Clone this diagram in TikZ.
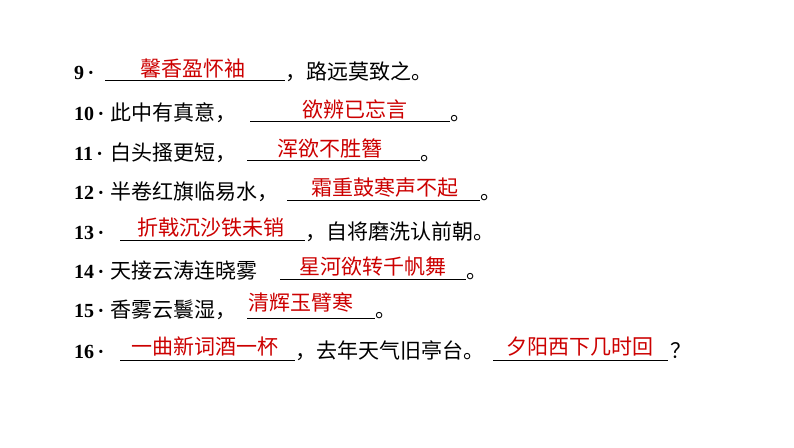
\documentclass[tikz,border=0pt]{standalone}
\usepackage{fontspec}
\setmainfont{Liberation Serif}
\newfontfamily\cjk{Noto Sans CJK SC}
\begin{document}
\begin{tikzpicture}[x=1pt,y=-1pt,
  txt/.style={anchor=base west,inner sep=0pt,font=\fontsize{21}{21}\selectfont\cjk},
  num/.style={anchor=base west,inner sep=0pt,font=\fontsize{20}{20}\selectfont\bfseries},
  ans/.style={anchor=base,inner sep=0pt,text=red!80!black,font=\fontsize{21}{21}\selectfont\cjk},
  blank/.style={line width=0.8pt}]
\useasboundingbox[fill=white] (0,0) rectangle (794,447);
% 9
\node[num] (n9) at (74,79) {9\,·};
\draw[blank] (105,80) coordinate (a9) -- (285,80) coordinate (b9);
\node[ans] (r9) at (193,76) {馨香盈怀袖};
\node[txt] (t9) at (285,79) {，路远莫致之。};
% 10
\node[num] (n10) at (74,120) {10\,·};
\node[txt] (t10) at (110,120) {此中有真意，};
\draw[blank] (250,121) coordinate (a10) -- (450,121) coordinate (b10);
\node[ans] (r10) at (355,117) {欲辨已忘言};
\node[txt] (u10) at (450,120) {。};
% 11
\node[num] (n11) at (74,160) {11\,·};
\node[txt] (t11) at (110,160) {白头搔更短，};
\draw[blank] (247,160) coordinate (a11) -- (420,160) coordinate (b11);
\node[ans] (r11) at (330,156) {浑欲不胜簪};
\node[txt] (u11) at (420,160) {。};
% 12
\node[num] (n12) at (74,199) {12\,·};
\node[txt] (t12) at (110,199) {半卷红旗临易水，};
\draw[blank] (287,200) coordinate (a12) -- (480,200) coordinate (b12);
\node[ans] (r12) at (385,195) {霜重鼓寒声不起};
\node[txt] (u12) at (480,199) {。};
% 13
\node[num] (n13) at (74,239) {13\,·};
\draw[blank] (120,240) coordinate (a13) -- (305,240) coordinate (b13);
\node[ans] (r13) at (211,235) {折戟沉沙铁未销};
\node[txt] (t13) at (305,239) {，自将磨洗认前朝。};
% 14
\node[num] (n14) at (74,278) {14\,·};
\node[txt] (t14) at (110,278) {天接云涛连晓雾};
\draw[blank] (280,279) coordinate (a14) -- (466,279) coordinate (b14);
\node[ans] (r14) at (373,274) {星河欲转千帆舞};
\node[txt] (u14) at (466,278) {。};
% 15
\node[num] (n15) at (74,317) {15\,·};
\node[txt] (t15) at (110,317) {香雾云鬟湿，};
\draw[blank] (247,318) coordinate (a15) -- (375,318) coordinate (b15);
\node[ans] (r15) at (301,310) {清辉玉臂寒};
\node[txt] (u15) at (375,317) {。};
% 16
\node[num] (n16) at (74,358) {16\,·};
\draw[blank] (120,360) coordinate (a16) -- (295,360) coordinate (b16);
\node[ans] (r16) at (205,354) {一曲新词酒一杯};
\node[txt] (t16) at (295,358) {，去年天气旧亭台。};
\draw[blank] (493,360) coordinate (c16) -- (668,360) coordinate (d16);
\node[ans] (s16) at (580,354) {夕阳西下几时回};
\node[txt] (u16) at (670,358) {？};
\end{tikzpicture}
\end{document}
